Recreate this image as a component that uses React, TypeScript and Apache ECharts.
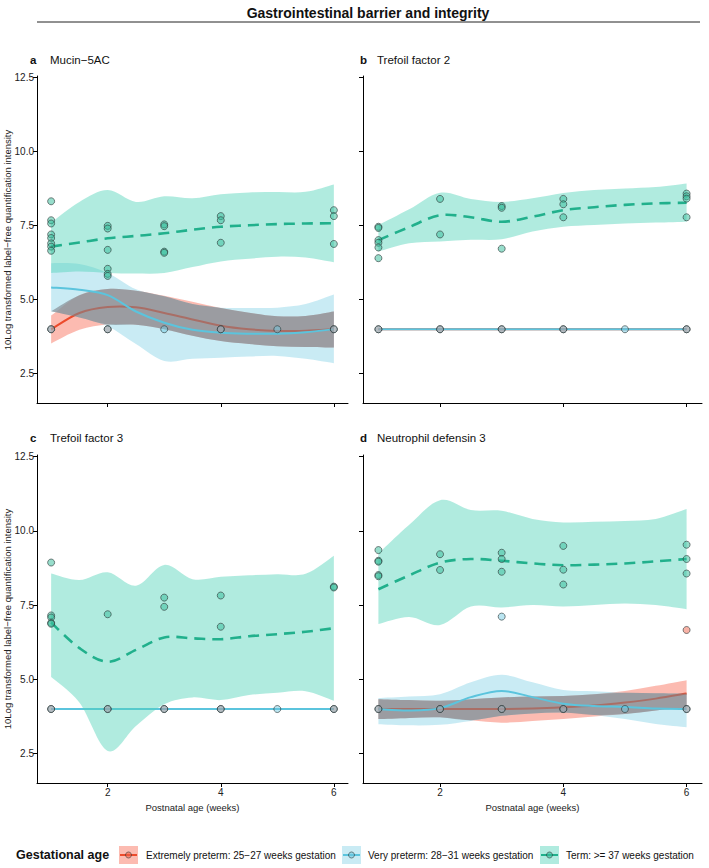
import React, { useEffect, useRef } from "react";
import * as echarts from "echarts";

// ---------- shared axes / labels ----------
const weeks = [1, 1.5, 2, 2.5, 3, 3.5, 4, 4.5, 5, 5.5, 6];
const xTicks = [2, 4, 6];
const yTicks = [2.5, 5, 7.5, 10, 12.5];
const panelLetters = ["a", "b", "c", "d"];
const panelNames = ["Mucin\u22125AC", "Trefoil factor 2", "Trefoil factor 3", "Neutrophil defensin 3"];
const groupNames = [
  "Extremely preterm: 25\u221227 weeks gestation",
  "Very preterm: 28\u221231 weeks gestation",
  "Term: >= 37 weeks gestation",
];
const mainTitle = "Gastrointestinal barrier and integrity";
const yTitle = "10Log transformed label\u2212free quantification intensity";
const xTitle = "Postnatal age (weeks)";
const legendTitle = "Gestational age";

// ---------- panel a: Mucin-5AC ----------
const aExtFit = [4.0, 4.55, 4.75, 4.74, 4.55, 4.33, 4.12, 4.0, 3.94, 3.95, 4.0];
const aExtLo = [3.52, 3.98, 4.16, 4.15, 4.0, 3.78, 3.6, 3.5, 3.43, 3.4, 3.38];
const aExtHi = [4.46, 5.15, 5.36, 5.3, 5.13, 4.93, 4.72, 4.56, 4.44, 4.45, 4.6];
const aVeryFit = [5.41, 5.33, 5.15, 4.6, 4.22, 3.98, 3.88, 3.85, 3.85, 3.9, 4.0];
const aVeryLo = [4.61, 4.4, 4.1, 3.5, 2.93, 3.0, 3.04, 3.08, 3.1, 3.0, 2.85];
const aVeryHi = [6.23, 6.2, 5.9, 5.35, 5.11, 4.85, 4.73, 4.72, 4.73, 4.85, 5.17];
const aTermFit = [6.79, 6.93, 7.07, 7.15, 7.24, 7.36, 7.46, 7.51, 7.55, 7.57, 7.58];
const aTermLo = [5.9, 5.95, 5.9, 5.88, 5.9, 6.1, 6.29, 6.38, 6.45, 6.42, 6.26];
const aTermHi = [7.6, 8.3, 8.7, 8.3, 8.49, 8.42, 8.56, 8.62, 8.63, 8.64, 8.89];
const aExtPts = [[1, 4.0], [2, 4.0], [4, 4.0], [6, 4.0]];
const aVeryPts = [[1, 4.0], [2, 4.0], [3, 4.0], [4, 4.0], [5, 4.0], [6, 4.0]];
const aTermPts = [
  [1, 8.32], [1, 7.68], [1, 7.57], [1, 7.2], [1, 7.08], [1, 6.9], [1, 6.79], [1, 6.65],
  [2, 7.49], [2, 7.4], [2, 6.68], [2, 6.04], [2, 5.87], [2, 5.8],
  [3, 7.54], [3, 7.48], [3, 6.62], [3, 6.58],
  [4, 7.82], [4, 7.68], [4, 6.92],
  [6, 8.02], [6, 7.82], [6, 6.88],
];

// ---------- panel b: Trefoil factor 2 ----------
const bExtFit = [4, 4, 4, 4, 4, 4, 4, 4, 4, 4, 4];
const bExtLo = [4, 4, 4, 4, 4, 4, 4, 4, 4, 4, 4];
const bExtHi = [4, 4, 4, 4, 4, 4, 4, 4, 4, 4, 4];
const bVeryFit = [4, 4, 4, 4, 4, 4, 4, 4, 4, 4, 4];
const bVeryLo = [4, 4, 4, 4, 4, 4, 4, 4, 4, 4, 4];
const bVeryHi = [4, 4, 4, 4, 4, 4, 4, 4, 4, 4, 4];
const bTermFit = [7.01, 7.45, 7.85, 7.78, 7.63, 7.8, 8.02, 8.12, 8.2, 8.25, 8.27];
const bTermLo = [6.62, 6.9, 6.96, 7.02, 7.04, 7.3, 7.46, 7.52, 7.57, 7.6, 7.63];
const bTermHi = [7.52, 8.05, 8.61, 8.4, 8.3, 8.42, 8.6, 8.7, 8.75, 8.8, 8.92];
const bExtPts = [[1, 4.0], [2, 4.0], [3, 4.0], [4, 4.0], [6, 4.0]];
const bVeryPts = [[1, 4.0], [2, 4.0], [3, 4.0], [4, 4.0], [5, 4.0], [6, 4.0]];
const bTermPts = [
  [1, 7.46], [1, 7.42], [1, 7.01], [1, 6.92], [1, 6.76], [1, 6.4],
  [2, 8.4], [2, 7.2],
  [3, 8.16], [3, 8.1], [3, 6.72],
  [4, 8.4], [4, 8.22], [4, 7.78],
  [6, 8.58], [6, 8.49], [6, 8.41], [6, 7.78],
];

// ---------- panel c: Trefoil factor 3 ----------
const cExtFit = [4, 4, 4, 4, 4, 4, 4, 4, 4, 4, 4];
const cExtLo = [4, 4, 4, 4, 4, 4, 4, 4, 4, 4, 4];
const cExtHi = [4, 4, 4, 4, 4, 4, 4, 4, 4, 4, 4];
const cVeryFit = [4, 4, 4, 4, 4, 4, 4, 4, 4, 4, 4];
const cVeryLo = [4, 4, 4, 4, 4, 4, 4, 4, 4, 4, 4];
const cVeryHi = [4, 4, 4, 4, 4, 4, 4, 4, 4, 4, 4];
const cTermFit = [6.91, 6.05, 5.59, 5.99, 6.41, 6.38, 6.35, 6.45, 6.52, 6.6, 6.72];
const cTermLo = [5.08, 4.22, 2.59, 3.43, 4.16, 4.39, 4.3, 4.47, 4.55, 4.6, 4.28];
const cTermHi = [8.56, 8.34, 8.6, 8.15, 8.85, 8.37, 8.45, 8.5, 8.54, 8.55, 9.16];
const cExtPts = [[1, 4.0], [2, 4.0], [3, 4.0], [4, 4.0], [6, 4.0]];
const cVeryPts = [[1, 4.0], [2, 4.0], [3, 4.0], [4, 4.0], [5, 4.0], [6, 4.0]];
const cTermPts = [
  [1, 8.93], [1, 7.15], [1, 7.08], [1, 6.9], [1, 6.87],
  [2, 7.19],
  [3, 7.75], [3, 7.44],
  [4, 7.82], [4, 6.77],
  [6, 8.12], [6, 8.09],
];

// ---------- panel d: Neutrophil defensin 3 ----------
const dExtFit = [4.0, 4.0, 4.0, 4.0, 4.0, 4.02, 4.06, 4.12, 4.22, 4.35, 4.52];
const dExtLo = [3.66, 3.7, 3.72, 3.62, 3.54, 3.6, 3.66, 3.75, 3.83, 3.95, 4.05];
const dExtHi = [4.33, 4.3, 4.28, 4.33, 4.39, 4.42, 4.44, 4.5, 4.61, 4.78, 4.97];
const dVeryFit = [4.0, 3.95, 4.03, 4.4, 4.61, 4.4, 4.18, 4.1, 4.07, 4.02, 4.0];
const dVeryLo = [3.49, 3.45, 3.47, 3.6, 3.77, 3.85, 3.88, 3.8, 3.66, 3.5, 3.39];
const dVeryHi = [4.37, 4.42, 4.5, 4.9, 5.15, 4.9, 4.64, 4.6, 4.55, 4.53, 4.52];
const dTermFit = [8.03, 8.5, 8.93, 9.05, 8.99, 8.9, 8.84, 8.86, 8.9, 8.97, 9.05];
const dTermLo = [6.86, 7.1, 6.83, 7.45, 7.42, 7.5, 7.45, 7.5, 7.55, 7.5, 7.36];
const dTermHi = [9.23, 10.2, 11.03, 10.7, 10.67, 10.4, 10.28, 10.3, 10.33, 10.4, 10.73];
const dExtPts = [[1, 4.0], [2, 4.0], [3, 4.0], [4, 4.0], [6, 4.0], [6, 6.66]];
const dVeryPts = [[1, 4.0], [2, 4.0], [3, 4.0], [3, 7.11], [4, 4.0], [5, 4.0], [6, 4.0]];
const dTermPts = [
  [1, 9.35], [1, 8.99], [1, 8.96], [1, 8.51], [1, 8.47],
  [2, 9.21], [2, 8.68],
  [3, 9.26], [3, 9.05], [3, 8.62],
  [4, 9.49], [4, 8.69], [4, 8.19],
  [6, 9.53], [6, 9.05], [6, 8.56],
];

const panels = [
  { extFit: aExtFit, extLo: aExtLo, extHi: aExtHi, veryFit: aVeryFit, veryLo: aVeryLo, veryHi: aVeryHi, termFit: aTermFit, termLo: aTermLo, termHi: aTermHi, extPts: aExtPts, veryPts: aVeryPts, termPts: aTermPts },
  { extFit: bExtFit, extLo: bExtLo, extHi: bExtHi, veryFit: bVeryFit, veryLo: bVeryLo, veryHi: bVeryHi, termFit: bTermFit, termLo: bTermLo, termHi: bTermHi, extPts: bExtPts, veryPts: bVeryPts, termPts: bTermPts },
  { extFit: cExtFit, extLo: cExtLo, extHi: cExtHi, veryFit: cVeryFit, veryLo: cVeryLo, veryHi: cVeryHi, termFit: cTermFit, termLo: cTermLo, termHi: cTermHi, extPts: cExtPts, veryPts: cVeryPts, termPts: cTermPts },
  { extFit: dExtFit, extLo: dExtLo, extHi: dExtHi, veryFit: dVeryFit, veryLo: dVeryLo, veryHi: dVeryHi, termFit: dTermFit, termLo: dTermLo, termHi: dTermHi, extPts: dExtPts, veryPts: dVeryPts, termPts: dTermPts },
];

// ---------- styling ----------
const FONT = "'Liberation Sans', Arial, Helvetica, sans-serif";
const COL_EXT = "#EC4B2C";
const COL_VERY = "#5BC4DD";
const COL_TERM = "#21B08C";
const BAND_EXT = "rgba(250,120,100,0.5)";
const BAND_VERY = "rgba(120,205,228,0.4)";
const BAND_TERM = "rgba(80,210,185,0.45)";
const BAND_OVERLAP = "rgba(128,132,139,0.62)";
const PT_EXT = "rgba(240,95,70,0.6)";
const PT_VERY = "rgba(110,200,225,0.6)";
const PT_TERM = "rgba(55,190,155,0.65)";
const PT_BORDER = "#2f3a3a";

const grids = [
  { left: 37, top: 76, width: 311, height: 327 },
  { left: 363, top: 76, width: 339, height: 327 },
  { left: 37, top: 455, width: 311, height: 328 },
  { left: 363, top: 455, width: 339, height: 328 },
];

// Catmull-Rom spline through pixel points, as cubic bezier segments
function splineSegs(pts: number[][]) {
  let d = "";
  for (let i = 0; i < pts.length - 1; i++) {
    const p0 = pts[Math.max(0, i - 1)];
    const p1 = pts[i];
    const p2 = pts[i + 1];
    const p3 = pts[Math.min(pts.length - 1, i + 2)];
    const c1x = p1[0] + (p2[0] - p0[0]) / 6;
    const c1y = p1[1] + (p2[1] - p0[1]) / 6;
    const c2x = p2[0] - (p3[0] - p1[0]) / 6;
    const c2y = p2[1] - (p3[1] - p1[1]) / 6;
    d += ` C${c1x.toFixed(2)},${c1y.toFixed(2)} ${c2x.toFixed(2)},${c2y.toFixed(2)} ${p2[0].toFixed(2)},${p2[1].toFixed(2)}`;
  }
  return d;
}

function bandSeries(gi: number, lo: number[], hi: number[], color: string) {
  return {
    type: "custom", xAxisIndex: gi, yAxisIndex: gi, silent: true,
    data: weeks.map((w, i) => [w, lo[i], hi[i]]),
    encode: { x: 0, y: [1, 2] },
    renderItem: (params: any, api: any) => {
      if (params.dataIndex !== 0) return null;
      const up = weeks.map((w, i) => api.coord([w, hi[i]]));
      const dn = weeks.map((w, i) => api.coord([w, lo[i]])).reverse();
      const pathData =
        `M${up[0][0]},${up[0][1]}` + splineSegs(up) + ` L${dn[0][0]},${dn[0][1]}` + splineSegs(dn) + " Z";
      return { type: "path", shape: { pathData }, style: { fill: color, stroke: "none" } };
    },
  };
}

function fitSeries(gi: number, fit: number[], color: string, dashed: boolean) {
  return {
    type: "custom", xAxisIndex: gi, yAxisIndex: gi, silent: true,
    data: weeks.map((w, i) => [w, fit[i]]),
    encode: { x: 0, y: 1 },
    renderItem: (params: any, api: any) => {
      if (params.dataIndex !== 0) return null;
      const pts = weeks.map((w, i) => api.coord([w, fit[i]]));
      const pathData = `M${pts[0][0]},${pts[0][1]}` + splineSegs(pts);
      return {
        type: "path", shape: { pathData },
        style: dashed
          ? { fill: "none", stroke: color, lineWidth: 2.6, lineDash: [11, 7] }
          : { fill: "none", stroke: color, lineWidth: 2 },
      };
    },
  };
}

function pointSeries(gi: number, pts: number[][], color: string) {
  return {
    type: "scatter", xAxisIndex: gi, yAxisIndex: gi, symbolSize: 7, silent: true,
    itemStyle: { color, borderColor: PT_BORDER, borderWidth: 0.8 },
    data: pts,
  };
}

function buildOption() {
  const series: any[] = [];
  const xAxis: any[] = [];
  const yAxis: any[] = [];
  panels.forEach((p, gi) => {
    const bottomRow = gi >= 2;
    const leftCol = gi % 2 === 0;
    xAxis.push({
      type: "value", gridIndex: gi, min: 0.75, max: 6.25,
      axisLine: { show: true, onZero: false, lineStyle: { color: "#000", width: 1 } },
      axisTick: { show: true, customValues: xTicks, length: 4, lineStyle: { color: "#000" } },
      axisLabel: { show: bottomRow, customValues: xTicks, color: "#222", fontSize: 10, fontFamily: FONT, margin: 4 },
      splitLine: { show: false },
    });
    yAxis.push({
      type: "value", gridIndex: gi, min: 1.51, max: 12.55,
      axisLine: { show: true, onZero: false, lineStyle: { color: "#000", width: 1 } },
      axisTick: { show: true, customValues: yTicks, length: 4, lineStyle: { color: "#000" } },
      axisLabel: {
        show: leftCol, customValues: yTicks, color: "#222", fontSize: 10, fontFamily: FONT, margin: 3,
        formatter: (v: number) => v.toFixed(1),
      },
      splitLine: { show: false },
    });
    const ovLo = weeks.map((_, i) => Math.max(p.extLo[i], p.veryLo[i]));
    const ovHi = weeks.map((_, i) => Math.max(Math.min(p.extHi[i], p.veryHi[i]), ovLo[i]));
    series.push(bandSeries(gi, p.extLo, p.extHi, BAND_EXT));
    series.push(bandSeries(gi, p.veryLo, p.veryHi, BAND_VERY));
    series.push(fitSeries(gi, p.extFit, COL_EXT, false));
    series.push(bandSeries(gi, ovLo, ovHi, BAND_OVERLAP));
    series.push(fitSeries(gi, p.veryFit, COL_VERY, false));
    series.push(bandSeries(gi, p.termLo, p.termHi, BAND_TERM));
    series.push(fitSeries(gi, p.termFit, COL_TERM, true));
    series.push(pointSeries(gi, p.extPts, PT_EXT));
    series.push(pointSeries(gi, p.veryPts, PT_VERY));
    series.push(pointSeries(gi, p.termPts, PT_TERM));
  });

  const graphic: any[] = [];
  // main title + rule
  graphic.push({
    type: "text", x: 368, y: 13,
    style: { text: mainTitle, font: `bold 14px ${FONT}`, fill: "#111", align: "center", verticalAlign: "middle" },
  });
  graphic.push({ type: "line", shape: { x1: 37, y1: 22, x2: 700, y2: 22 }, style: { stroke: "#222", lineWidth: 1 } });

  // panel titles
  const titlePos = [
    { lx: 30, tx: 50, y: 60 },
    { lx: 360, tx: 377, y: 60 },
    { lx: 30, tx: 50, y: 438 },
    { lx: 360, tx: 377, y: 438 },
  ];
  titlePos.forEach((tp, i) => {
    graphic.push({ type: "text", x: tp.lx, y: tp.y, style: { text: panelLetters[i], font: `bold 11.5px ${FONT}`, fill: "#111", verticalAlign: "middle" } });
    graphic.push({ type: "text", x: tp.tx, y: tp.y, style: { text: panelNames[i], font: `11.5px ${FONT}`, fill: "#111", verticalAlign: "middle" } });
  });

  // axis titles
  [240, 619].forEach((cy) => {
    graphic.push({
      type: "text", x: 7.5, y: cy, rotation: Math.PI / 2,
      style: { text: yTitle, font: `9.5px ${FONT}`, fill: "#222", align: "center", verticalAlign: "middle" },
    });
  });
  [192.5, 532.5].forEach((cx) => {
    graphic.push({
      type: "text", x: cx, y: 807,
      style: { text: xTitle, font: `9.5px ${FONT}`, fill: "#222", align: "center", verticalAlign: "middle" },
    });
  });

  // legend
  const ly = 855;
  graphic.push({ type: "text", x: 16, y: ly, style: { text: legendTitle, font: `bold 12.5px ${FONT}`, fill: "#111", verticalAlign: "middle" } });
  const legendItems = [
    { bx: 119, tx: 146, band: BAND_EXT, line: COL_EXT, pt: PT_EXT },
    { bx: 342, tx: 368, band: BAND_VERY, line: COL_VERY, pt: PT_VERY },
    { bx: 540, tx: 566, band: BAND_TERM, line: COL_TERM, pt: PT_TERM },
  ];
  legendItems.forEach((it, i) => {
    graphic.push({ type: "rect", shape: { x: it.bx, y: ly - 9, width: 19, height: 18 }, style: { fill: it.band } });
    graphic.push({ type: "line", shape: { x1: it.bx + 1, y1: ly, x2: it.bx + 18, y2: ly }, style: { stroke: it.line, lineWidth: 2 } });
    graphic.push({ type: "circle", shape: { cx: it.bx + 9.5, cy: ly, r: 3 }, style: { fill: it.pt, stroke: PT_BORDER, lineWidth: 0.6 } });
    graphic.push({ type: "text", x: it.tx, y: ly, style: { text: groupNames[i], font: `10px ${FONT}`, fill: "#111", verticalAlign: "middle" } });
  });

  return {
    animation: false,
    backgroundColor: "#fff",
    grid: grids.map((g) => ({ ...g, containLabel: false })),
    xAxis,
    yAxis,
    series,
    graphic,
  };
}

export default function App() {
  const ref = useRef<HTMLDivElement>(null);
  useEffect(() => {
    if (!ref.current) return;
    const chart = echarts.init(ref.current, undefined, { renderer: "svg" });
    chart.setOption(buildOption() as any);
    return () => chart.dispose();
  }, []);
  return <div ref={ref} style={{ position: "fixed", left: 0, top: 0, width: 709, height: 868 }} />;
}
